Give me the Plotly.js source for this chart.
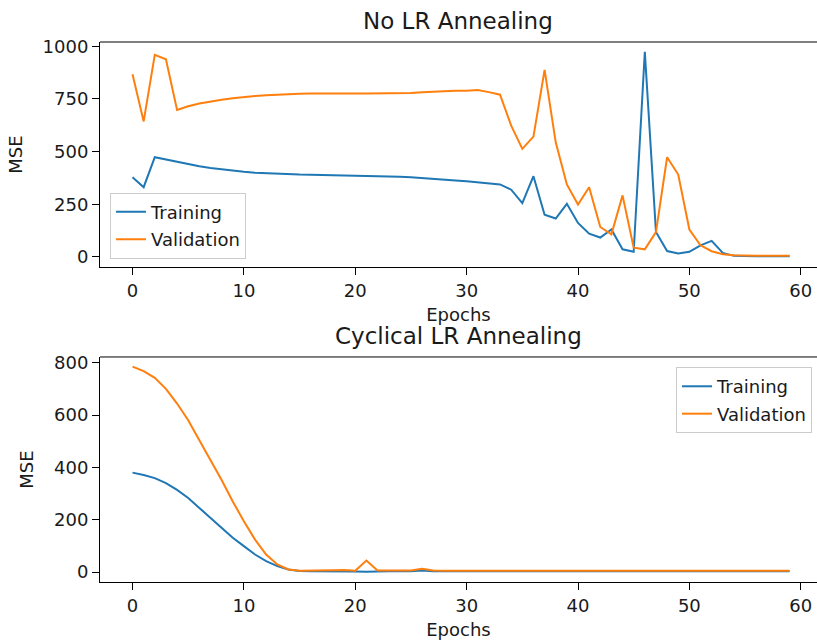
<!DOCTYPE html>
<html>
<head>
<meta charset="utf-8">
<script src="https://cdn.plot.ly/plotly-3.0.1.min.js"></script>
<style>html,body{margin:0;padding:0;background:#fff;}#chart{width:817px;height:644px;}</style>
</head>
<body>
<div id="chart"></div>
<script>
const epochs = Array.from({length: 60}, (_, i) => i);

const noLrTraining = [378,331,473,462,450,440,430,422,415,409,404,400,397,395,393,391,390,389,389,388,
  387,386,385,383,381,378,375,371,367,363,359,355,350,344,319,255,383,200,182,252,
  161,110,92,130,36,24,974,118,28,16,24,55,76,19,5,3,3,3,3,3];
const noLrValidation = [867,643,959,938,697,715,728,738,746,753,759,764,767,770,772,774,775,776,776,776,
  776,775,775,775,776,778,781,784,788,789,789,792,782,770,623,513,571,888,544,344,
  249,331,142,107,292,44,36,118,473,391,130,55,27,13,8,6,6,6,6,6];

const cycTraining = [380,371,359,340,314,283,245,207,169,131,99,67,42,23,10,4,3,3,3,4,
  2,1,2,4,4,3,6,3,3,3,3,4,3,3,3,3,3,3,3,3,
  3,3,3,3,3,3,3,3,3,3,3,3,3,3,3,3,3,3,3,3];
const cycValidation = [785,768,742,700,644,580,504,428,352,270,194,124,67,29,10,5,5,6,7,8,
  5,44,6,6,5,6,13,6,5,5,6,7,6,5,5,5,6,5,5,5,
  5,5,5,5,5,5,5,5,5,5,5,5,5,5,5,5,5,5,5,5];

const titles = ["No LR Annealing", "Cyclical LR Annealing"];
const seriesNames = ["Training", "Validation"];
const colors = ["#1f77b4", "#ff7f0e"];
const topTicks = [0, 250, 500, 750, 1000];
const bottomTicks = [0, 200, 400, 600, 800];
const xTicks = [0, 10, 20, 30, 40, 50, 60];

const FAM = "DejaVu Sans, sans-serif";
const tickFont = {family: FAM, size: 18, color: "#1a1a1a"};
const labelFont = {family: FAM, size: 18, color: "#1a1a1a"};

function trace(y, i, xa, ya, leg) {
  return {x: epochs, y: y, name: seriesNames[i], type: "scatter", mode: "lines",
    line: {color: colors[i], width: 2}, xaxis: xa, yaxis: ya, legend: leg,
    legendgroup: leg + "_" + i};
}

const data = [
  trace(noLrTraining, 0, "x", "y", "legend"),
  trace(noLrValidation, 1, "x", "y", "legend"),
  trace(cycTraining, 0, "x2", "y2", "legend2"),
  trace(cycValidation, 1, "x2", "y2", "legend2")
];

const xCommon = {range: [-2.92, 61.46], tickvals: xTicks, ticks: "outside", ticklen: 7, tickwidth: 1,
  tickcolor: "#000", showline: true, linecolor: "#000", linewidth: 1, showgrid: false, zeroline: false,
  tickfont: tickFont};
const yCommon = {ticks: "outside", ticklen: 7, tickwidth: 1, tickcolor: "#000", showline: true,
  linecolor: "#000", linewidth: 1, showgrid: false, zeroline: false, tickfont: tickFont};

const legendStyle = {bgcolor: "rgba(255,255,255,0.8)", bordercolor: "#cccccc", borderwidth: 1,
  font: {family: FAM, size: 18, color: "#1a1a1a"}, tracegroupgap: 1};

const layout = {
  width: 817, height: 644,
  margin: {l: 100, r: 0, t: 42, b: 62},
  paper_bgcolor: "#fff", plot_bgcolor: "#fff",
  font: tickFont,
  showlegend: true,
  xaxis: Object.assign({}, xCommon, {domain: [0, 1], anchor: "y",
    title: {text: "Epochs", font: labelFont, standoff: 8}}),
  yaxis: Object.assign({}, yCommon, {domain: [0.5833, 1], anchor: "x", range: [-48, 1020], tickvals: topTicks,
    title: {text: "MSE", font: labelFont, standoff: 15}}),
  xaxis2: Object.assign({}, xCommon, {domain: [0, 1], anchor: "y2",
    title: {text: "Epochs", font: labelFont, standoff: 8}}),
  yaxis2: Object.assign({}, yCommon, {domain: [0, 0.4167], anchor: "x2", range: [-38, 822], tickvals: bottomTicks,
    title: {text: "MSE", font: labelFont, standoff: 15}}),
  legend: Object.assign({}, legendStyle, {x: 0.0139, y: 0.721, xanchor: "left", yanchor: "top",
    xref: "paper", yref: "paper"}),
  legend2: Object.assign({}, legendStyle, {x: 0.993, y: 0.398, xanchor: "right", yanchor: "top",
    xref: "paper", yref: "paper"}),
  shapes: [
    {type: "line", xref: "paper", yref: "y domain", x0: 0, x1: 1, y0: 1, y1: 1, line: {color: "#000", width: 1}},
    {type: "line", xref: "paper", yref: "y2 domain", x0: 0, x1: 1, y0: 1, y1: 1, line: {color: "#000", width: 1}}
  ],
  annotations: [
    {text: titles[0], xref: "paper", yref: "y domain", x: 0.4998, y: 1, xanchor: "center", yanchor: "bottom",
      yshift: 6, showarrow: false, font: {family: FAM, size: 23, color: "#1a1a1a"}},
    {text: titles[1], xref: "paper", yref: "y2 domain", x: 0.4998, y: 1, xanchor: "center", yanchor: "bottom",
      yshift: 6, showarrow: false, font: {family: FAM, size: 23, color: "#1a1a1a"}}
  ]
};

Plotly.newPlot("chart", data, layout, {displayModeBar: false, staticPlot: true});
</script>
</body>
</html>
